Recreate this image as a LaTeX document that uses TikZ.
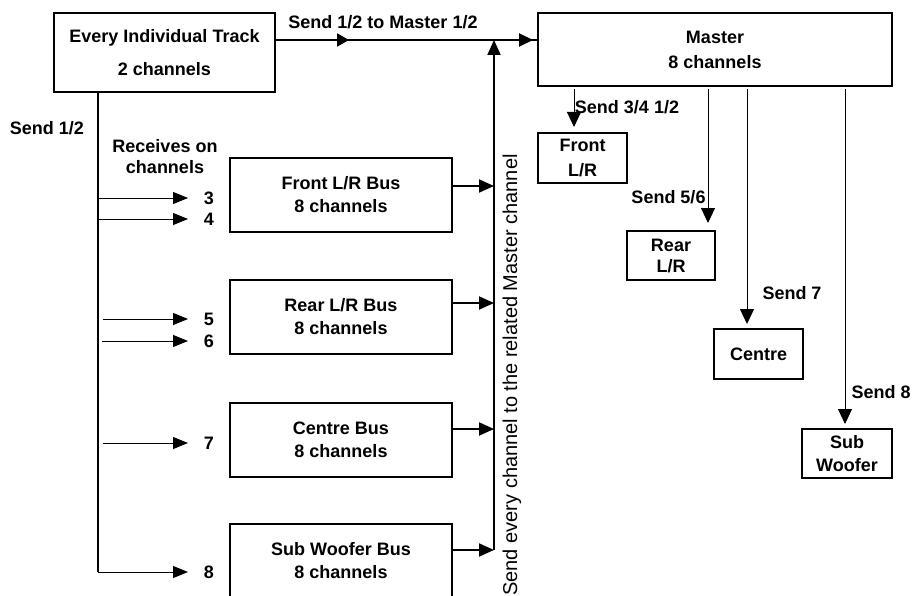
\documentclass[tikz,border=0pt]{standalone}
\usepackage{fontspec}
\setmainfont{Liberation Sans}
\usetikzlibrary{arrows.meta,calc,decorations.markings}
\begin{document}
\begin{tikzpicture}[x=1pt,y=-1pt,
  box/.style={draw, line width=2pt, inner sep=0pt, align=center, font=\bfseries\fontsize{18}{23}\selectfont},
  lbl/.style={font=\bfseries\fontsize{18}{23}\selectfont, inner sep=0pt, align=center},
  thickarr/.style={line width=2pt, -{Triangle[length=15pt,width=13pt]}},
  thinarr/.style={line width=1pt, -{Triangle[length=15pt,width=12pt]}},
  droparr/.style={line width=1pt, -{Triangle[length=15pt,width=14pt]}}]
\useasboundingbox (0,0) rectangle (912,596);
\fill[white] (0,0) rectangle (912,596);

% boxes
\node[box, minimum width=221pt, minimum height=79pt] (track) at (164.5,52.5) {Every Individual Track\\[10pt]2 channels};
\node[box, minimum width=354pt, minimum height=73pt] (master) at (715,49.5) {Master\\[2pt]8 channels};
\node[box, minimum width=222pt, minimum height=74pt] (front) at (341,195) {Front L/R Bus\\8 channels};
\node[box, minimum width=222pt, minimum height=74pt] (rear) at (341,317) {Rear L/R Bus\\8 channels};
\node[box, minimum width=222pt, minimum height=74pt] (centre) at (341,440) {Centre Bus\\8 channels};
\node[box, minimum width=222pt, minimum height=74pt] (sub) at (341,561) {Sub Woofer Bus\\8 channels};

\node[box, minimum width=89pt, minimum height=50pt] (sfront) at (582.5,158) {Front\\[2pt]L/R};
\node[box, minimum width=88pt, minimum height=49pt] (srear) at (671,255.5) {Rear\\[-2pt]L/R};
\node[box, minimum width=89pt, minimum height=50pt] (scentre) at (758.5,354) {Centre};
\node[box, minimum width=90pt, minimum height=49pt] (ssub) at (847,453.5) {Sub\\Woofer};

% labels
\node[lbl] (l1) at (383,22) {Send 1/2 to Master 1/2};
\node[lbl] (l2) at (47,128) {Send 1/2};
\node[lbl] (l3) at (165,146) {Receives on};
\node[lbl] (l4) at (165,167) {channels};
\node[lbl] (n3) at (209,198) {3};
\node[lbl] (n4) at (209,219) {4};
\node[lbl] (n5) at (209,319) {5};
\node[lbl] (n6) at (209,341) {6};
\node[lbl] (n7) at (209,443) {7};
\node[lbl] (n8) at (209,572) {8};
\node[lbl] (m1) at (627,107) {Send 3/4 1/2};
\node[lbl] (m2) at (668.5,197) {Send 5/6};
\node[lbl] (m3) at (792,293) {Send 7};
\node[lbl] (m4) at (881,392) {Send 8};
\node[font=\fontsize{20}{24}\selectfont, rotate=90, inner sep=0pt] (vt) at (512,375) {Send every channel to the related Master channel};

% helper coordinates
\coordinate (lx) at (98,0);
\coordinate (cx) at (494,0);
\coordinate (ta) at ([yshift=12.5pt]track.east);

% top line
\draw[line width=2pt, postaction={decorate}, decoration={markings,
  mark=at position 73pt with {\arrow{Triangle[length=12pt,width=13pt]}},
  mark=at position 257pt with {\arrow{Triangle[length=14pt,width=13pt]}}}]
  (ta) -- (ta -| master.west);

% left distribution line
\draw[line width=2pt] (track.south -| lx) -- (lx |- n8);
\draw[thinarr] (lx |- n3) -- ([xshift=-21pt]n3.center);
\draw[thinarr] (lx |- n4) -- ([xshift=-21pt]n4.center);
\draw[thinarr, shorten <=5pt] (lx |- n5) -- ([xshift=-21pt]n5.center);
\draw[thinarr, shorten <=4pt] (lx |- n6) -- ([xshift=-21pt]n6.center);
\draw[thinarr, shorten <=5pt] (lx |- n7) -- ([xshift=-21pt]n7.center);
\draw[thinarr] (lx |- n8) -- ([xshift=-21pt]n8.center);

% bus outputs to collector
\coordinate (fa) at ([yshift=9pt]front.east);
\coordinate (ra) at ([yshift=14pt]rear.east);
\coordinate (ca) at ([yshift=11pt]centre.east);
\coordinate (sa) at ([yshift=11pt]sub.east);
\draw[thickarr] (fa) -- (fa -| cx);
\draw[thickarr] (ra) -- (ra -| cx);
\draw[thickarr] (ca) -- (ca -| cx);
\draw[thickarr] (sa) -- (sa -| cx);
\draw[thickarr] (sa -| cx) -- (cx |- ta);

% master sends
\coordinate (d1) at (574,0);
\coordinate (d2) at (708,0);
\coordinate (d3) at (747,0);
\coordinate (d4) at (845,0);
\draw[droparr, shorten <=2pt, shorten >=5pt] (master.south -| d1) -- (sfront.north -| d1);
\draw[droparr, shorten <=2pt, shorten >=7pt] (master.south -| d2) -- (srear.north -| d2);
\draw[droparr, shorten <=2pt, shorten >=4pt] (master.south -| d3) -- (scentre.north -| d3);
\draw[droparr, shorten <=2pt, shorten >=4pt] (master.south -| d4) -- (ssub.north -| d4);
\end{tikzpicture}
\end{document}
